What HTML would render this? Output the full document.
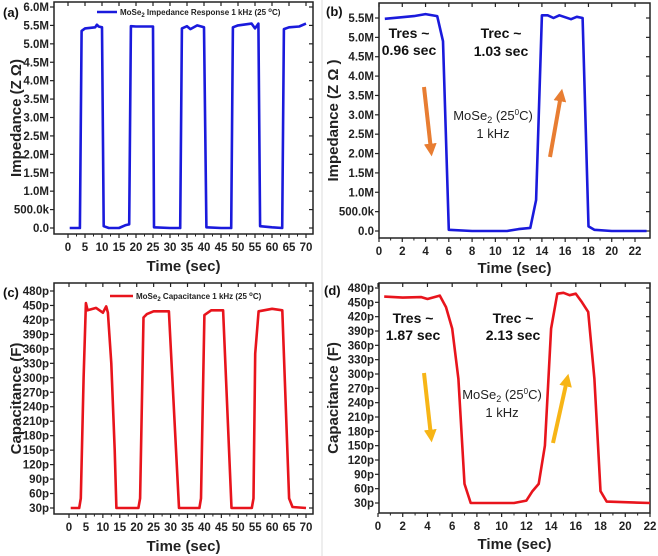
<!DOCTYPE html>
<html><head><meta charset="utf-8">
<style>
body{margin:0;background:#fff;}
svg{display:block;font-family:"Liberation Sans",Arial,sans-serif;}
.tk{font-size:11.5px;font-weight:bold;fill:#222;}
.at{font-size:15px;font-weight:bold;fill:#222;}
.pl{font-size:13px;font-weight:bold;fill:#111;}
.an{font-size:14px;font-weight:bold;fill:#111;}
.an2{font-size:13px;fill:#222;}
</style></head>
<body>
<svg id="fig" width="658" height="556" viewBox="0 0 658 556">
<line x1="322" y1="0" x2="322" y2="556" stroke="#ddd" stroke-width="1"/>
</svg>
<script>
// Panel (a) data
const aTime=[0.5,3.5,4,5,8,8.5,9,10,10.5,12,15,17,18,18.5,20,25,25.3,30,33,33.5,35,36,38,40,40.7,45,48,48.5,50,54,55,56,56.5,60,63,63.5,65,68,70];
const aImp=[0,0,5.35,5.42,5.45,5.52,5.47,5.45,0.05,0,0,0.08,0.1,5.48,5.47,5.47,0.02,0,0,5.42,5.48,5.4,5.5,5.45,0.02,0,0,5.45,5.5,5.55,5.42,5.55,0.05,0.02,0,5.4,5.45,5.47,5.55];
const aYTicks=[0,0.5,1,1.5,2,2.5,3,3.5,4,4.5,5,5.5,6];
const aYLabels=["0.0","500.0k","1.0M","1.5M","2.0M","2.5M","3.0M","3.5M","4.0M","4.5M","5.0M","5.5M","6.0M"];
const aXTicks=[0,5,10,15,20,25,30,35,40,45,50,55,60,65,70];
// Panel (b) data
const bTime=[0.5,2,3,4,5,5.5,6,8,11,12,13,13.5,14,14.5,15,15.5,16.5,17,17.5,18,18.5,20,23];
const bImp=[5.48,5.52,5.55,5.6,5.55,4.9,0.03,0,0,0.05,0.08,0.8,5.57,5.57,5.5,5.57,5.47,5.53,5.5,0.12,0.03,0,0];
const bYTicks=[0,0.5,1,1.5,2,2.5,3,3.5,4,4.5,5,5.5];
const bYLabels=["0.0","500.0k","1.0M","1.5M","2.0M","2.5M","3.0M","3.5M","4.0M","4.5M","5.0M","5.5M"];
const bXTicks=[0,2,4,6,8,10,12,14,16,18,20,22];
// Panel (c) data
const cTime=[0.5,3,3.5,4.3,5,5.5,8,10,11,11.5,12.5,13.5,14,20.5,21,22,23,25,29.5,32.5,38.5,39,40,42,45.5,48,54,54.5,55,56,60,63,65,66,70];
const cCap=[30,30,50,300,455,440,445,435,448,435,330,150,30,30,50,425,432,438,438,30,30,50,430,440,440,30,30,50,350,438,443,440,50,32,30];
const cYTicks=[30,60,90,120,150,180,210,240,270,300,330,360,390,420,450,480];
const cXTicks=[0,5,10,15,20,25,30,35,40,45,50,55,60,65,70];
// Panel (d) data
const dTime=[0.5,2,3.5,4,5,5.5,6,6.5,7,7.5,11,12,12.5,13,13.5,14,14.5,15,15.5,16,16.5,17,17.5,18,18.5,22];
const dCap=[462,460,461,457,464,440,395,290,70,30,30,35,55,70,150,395,468,470,465,468,450,430,290,55,33,30];
const dYTicks=[30,60,90,120,150,180,210,240,270,300,330,360,390,420,450,480];
const dXTicks=[0,2,4,6,8,10,12,14,16,18,20,22];

const NS="http://www.w3.org/2000/svg";
const svg=document.getElementById('fig');
function mk(tag,attrs,parent){const e=document.createElementNS(NS,tag);for(const k in attrs)e.setAttribute(k,attrs[k]);(parent||svg).appendChild(e);return e;}

function panel(p){
  const g=mk('g',{});
  
  
  const sx=v=>p.x0+(v-p.xa)/(p.xb-p.xa)*(p.x1-p.x0);
  const sy=v=>p.y0-(v-p.ya)/(p.yb-p.ya)*(p.y0-p.y1);
  const fr=mk('rect',{x:p.L,y:p.T,width:p.R-p.L,height:p.B-p.T,fill:'none',stroke:'#222','stroke-width':1.5},g);
  
  
  p.yt.forEach((v,i)=>{
    const y=sy(v);
    mk('line',{x1:p.L-4,y1:y,x2:p.L,y2:y,stroke:'#222','stroke-width':1.2},g);
    mk('line',{x1:p.R,y1:y,x2:p.R-4,y2:y,stroke:'#222','stroke-width':1.2},g);
    const t=mk('text',{x:p.L-5,y:y+4,'text-anchor':'end',class:'tk'},g);
    t.textContent=p.yl?p.yl[i]:(v+'p');
    
    
  });
  p.xt.forEach((v,i)=>{
    const x=sx(v);
    mk('line',{x1:x,y1:p.B,x2:x,y2:p.B+4,stroke:'#222','stroke-width':1.2},g);
    mk('line',{x1:x,y1:p.T,x2:x,y2:p.T+4,stroke:'#222','stroke-width':1.2},g);
    if(i<p.xt.length-1){const xm=sx((v+p.xt[i+1])/2);
      mk('line',{x1:xm,y1:p.B,x2:xm,y2:p.B+2.5,stroke:'#222','stroke-width':1},g);}
    const t=mk('text',{x:x,y:p.B+17,'text-anchor':'middle',class:'tk'},g);
    t.textContent=v;
    
    
  });
  const pts=p.tx.map((t,i)=>sx(t).toFixed(1)+','+sy(p.ty[i]).toFixed(1)).join(' ');
  const ln=mk('polyline',{points:pts,fill:'none',stroke:p.color,'stroke-width':2.6,'stroke-linejoin':'round'},g);
  
  
  const xt=mk('text',{x:(p.L+p.R)/2,y:p.xTitleY,'text-anchor':'middle',class:'at'},g);
  xt.textContent='Time (sec)';
  
  
  const yt=mk('text',{x:0,y:0,'text-anchor':'middle',class:'at',transform:`translate(${p.yTitleX},${(p.T+p.B)/2}) rotate(-90)`},g);
  yt.textContent=p.ytitle;
  
  
  const pl=mk('text',{x:p.lx,y:p.ly,class:'pl'},g);
  pl.textContent=p.label;
  
  
  return g;
}

panel({name:'panel-a-impedance',L:54,R:313,T:2,B:234,x0:68,x1:306,xa:0,xb:70,y0:228,y1:7,ya:0,yb:6,
  yt:aYTicks,yl:aYLabels,xt:aXTicks,tx:aTime,ty:aImp,color:'#1a1adc',xTitleY:271,yTitleX:21,
  ytitle:'Impedance (Z Ω)',label:'(a)',lx:3,ly:17});
panel({name:'panel-b-impedance',L:379,R:650,T:3,B:238,x0:379,x1:635,xa:0,xb:22,y0:231,y1:18,ya:0,yb:5.5,
  yt:bYTicks,yl:bYLabels,xt:bXTicks,tx:bTime,ty:bImp,color:'#1a1adc',xTitleY:273,yTitleX:338,
  ytitle:'Impedance (Z Ω )',label:'(b)',lx:326,ly:16});
panel({name:'panel-c-capacitance',L:54,R:313,T:283,B:514,x0:69,x1:306,xa:0,xb:70,y0:508,y1:291,ya:30,yb:480,
  yt:cYTicks,xt:cXTicks,tx:cTime,ty:cCap,color:'#e8141c',xTitleY:551,yTitleX:21,
  ytitle:'Capacitance (F)',label:'(c)',lx:3,ly:297});
panel({name:'panel-d-capacitance',L:379,R:650,T:283,B:513,x0:378,x1:650,xa:0,xb:22,y0:503,y1:288,ya:30,yb:480,
  yt:dYTicks,xt:dXTicks,tx:dTime,ty:dCap,color:'#e8141c',xTitleY:549,yTitleX:338,
  ytitle:'Capacitance (F)',label:'(d)',lx:324,ly:295});
</script>
<svg width="658" height="556" style="position:absolute;left:0;top:0">
<defs>
<marker id="ho" viewBox="0 0 10 10" refX="5" refY="5" markerWidth="3.2" markerHeight="3.2" orient="auto"><path d="M0,0 L10,5 L0,10 z" fill="#e87d32"/></marker>
<marker id="hy" viewBox="0 0 10 10" refX="5" refY="5" markerWidth="3.2" markerHeight="3.2" orient="auto"><path d="M0,0 L10,5 L0,10 z" fill="#f7b516"/></marker>
</defs>
<g>
<line x1="97" y1="12" x2="117" y2="12" stroke="#1a1adc" stroke-width="2.6"/>
<text x="120" y="15" font-size="8" font-weight="bold" fill="#222" font-family="Liberation Sans, sans-serif">MoSe<tspan font-size="6" dy="2">2</tspan><tspan dy="-2"> Impedance Response 1 kHz (25 </tspan><tspan font-size="6" dy="-3">o</tspan><tspan dy="3">C)</tspan></text>
</g>
<g>
<line x1="110" y1="296" x2="133" y2="296" stroke="#e8141c" stroke-width="2.6"/>
<text x="136" y="299" font-size="8" font-weight="bold" fill="#222" font-family="Liberation Sans, sans-serif">MoSe<tspan font-size="6" dy="2">2</tspan><tspan dy="-2"> Capacitance 1 kHz (25 </tspan><tspan font-size="6" dy="-3">o</tspan><tspan dy="3">C)</tspan></text>
</g>
<g font-family="Liberation Sans, sans-serif">
<text x="409" y="38" text-anchor="middle" class="an">Tres ~</text>
<text x="409" y="55" text-anchor="middle" class="an">0.96 sec</text>
<text x="501" y="38" text-anchor="middle" class="an">Trec ~</text>
<text x="501" y="56" text-anchor="middle" class="an">1.03 sec</text>
<text x="493" y="120" text-anchor="middle" class="an2">MoSe<tspan font-size="9" dy="3">2</tspan><tspan dy="-3"> (25</tspan><tspan font-size="8" dy="-5">0</tspan><tspan dy="5">C)</tspan></text>
<text x="493" y="138" text-anchor="middle" class="an2">1 kHz</text>
<line x1="424" y1="87" x2="431" y2="150" stroke="#e87d32" stroke-width="4" marker-end="url(#ho)"/>
<line x1="550" y1="157" x2="561" y2="95" stroke="#e87d32" stroke-width="4" marker-end="url(#ho)"/>
</g>
<g font-family="Liberation Sans, sans-serif">
<text x="413" y="323" text-anchor="middle" class="an">Tres ~</text>
<text x="413" y="340" text-anchor="middle" class="an">1.87 sec</text>
<text x="513" y="323" text-anchor="middle" class="an">Trec ~</text>
<text x="513" y="340" text-anchor="middle" class="an">2.13 sec</text>
<text x="502" y="399" text-anchor="middle" class="an2">MoSe<tspan font-size="9" dy="3">2</tspan><tspan dy="-3"> (25</tspan><tspan font-size="8" dy="-5">0</tspan><tspan dy="5">C)</tspan></text>
<text x="502" y="417" text-anchor="middle" class="an2">1 kHz</text>
<line x1="424" y1="373" x2="431" y2="436" stroke="#f7b516" stroke-width="4" marker-end="url(#hy)"/>
<line x1="553" y1="443" x2="567" y2="380" stroke="#f7b516" stroke-width="4" marker-end="url(#hy)"/>
</g>
</svg>
</body></html>
